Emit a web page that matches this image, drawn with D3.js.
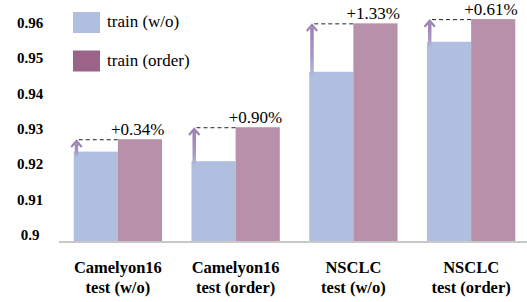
<!DOCTYPE html>
<html>
<head>
<meta charset="utf-8">
<style>
    body { margin: 0; background: #fff; }
    svg { display: block; }
    text { font-family: "Liberation Serif", "Times New Roman", Times, "DejaVu Serif", serif; fill: #000; }
    .tick-label { font-weight: bold; font-size: 15px; }
    .cat-label { font-weight: bold; font-size: 16.5px; }
    .legend-label { font-size: 17px; }
    .gain-label { font-size: 17px; }
</style>
</head>
<body>
<svg width="527" height="302"></svg>
<script src="https://d3js.org/d3.v7.min.js"></script>
<script>
    // data
    let categories = [["Camelyon16", "test (w/o)"], ["Camelyon16", "test (order)"], ["NSCLC", "test (w/o)"], ["NSCLC", "test (order)"]]
    let trainWo = [0.9253, 0.9226, 0.9479, 0.9564]
    let trainOrder = [0.9288, 0.9322, 0.9616, 0.9628]
    let gains = ["+0.34%", "+0.90%", "+1.33%", "+0.61%"]
    let tickValues = [0.9, 0.91, 0.92, 0.93, 0.94, 0.95, 0.96]
    let tickLabels = ["0.9", "0.91", "0.92", "0.93", "0.94", "0.95", "0.96"]
    let seriesNames = ["train (w/o)", "train (order)"]

    let blue = "#b0bee0"
    let pink = "#b890a9"
    let pinkLegend = "#9b6387"
    let arrowTop = "#9c82b2"

    let svg = d3.select("svg")
    let width = 527, height = 302
    let margin = { left: 59, right: -3, bottom: 61, top: 29 }

    let x = d3.scaleBand()
        .domain(d3.range(categories.length))
        .range([margin.left, width - margin.right])
        .paddingInner(0.25)
        .paddingOuter(0.125)

    let xs = d3.scaleBand()
        .domain([0, 1])
        .range([0, x.bandwidth()])

    let y = d3.scaleLinear()
        .domain([0.9, 0.96])
        .range([height - margin.bottom, margin.top])

    let defs = svg.append("defs")
    let grad = defs.append("linearGradient")
        .attr("id", "arrowGrad")
        .attr("x1", 0).attr("y1", 0).attr("x2", 0).attr("y2", 1)
    grad.append("stop").attr("offset", "0%").attr("stop-color", arrowTop)
    grad.append("stop").attr("offset", "60%").attr("stop-color", "#a898c6")
    grad.append("stop").attr("offset", "100%").attr("stop-color", blue)

    // y tick labels (no axis line)
    svg.append("g")
        .selectAll("text")
        .data(tickValues)
        .join("text")
        .attr("class", "tick-label")
        .attr("x", 30)
        .attr("y", d => y(d) - 1)
        .attr("text-anchor", "middle")
        .text((d, i) => tickLabels[i])

    // bars
    let groups = svg.append("g")
        .selectAll("g")
        .data(categories)
        .join("g")
        .attr("transform", (d, i) => `translate(${x(i)},0)`)

    groups.append("rect")
        .attr("x", xs(0))
        .attr("width", xs.bandwidth())
        .attr("y", (d, i) => y(trainWo[i]))
        .attr("height", (d, i) => y(0.9) - y(trainWo[i]))
        .attr("fill", blue)

    groups.append("rect")
        .attr("x", xs(1))
        .attr("width", xs.bandwidth())
        .attr("y", (d, i) => y(trainOrder[i]))
        .attr("height", (d, i) => y(0.9) - y(trainOrder[i]))
        .attr("fill", pink)

    // arrows and dashed lines
    groups.append("rect")
        .attr("x", xs(0) + 1)
        .attr("width", 3.5)
        .attr("y", (d, i) => y(trainOrder[i]) + 4)
        .attr("height", (d, i) => y(trainWo[i]) - y(trainOrder[i]) + 2)
        .attr("fill", "url(#arrowGrad)")

    groups.append("path")
        .attr("d", (d, i) => {
            let cx = xs(0) + 2.75, ty = y(trainOrder[i])
            return `M${cx - 6},${ty + 7} L${cx},${ty} L${cx + 6},${ty + 7} L${cx + 4.5},${ty + 8.5} L${cx},${ty + 3.5} L${cx - 4.5},${ty + 8.5} Z`
        })
        .attr("fill", arrowTop)

    groups.append("line")
        .attr("x1", xs(0) + 5)
        .attr("x2", xs(1))
        .attr("y1", (d, i) => y(trainOrder[i]) + 0.5)
        .attr("y2", (d, i) => y(trainOrder[i]) + 0.5)
        .attr("stroke", "#222")
        .attr("stroke-width", 1)
        .attr("stroke-dasharray", "4,3")

    groups.append("text")
        .attr("class", "gain-label")
        .attr("x", xs(1) - 7)
        .attr("y", (d, i) => y(trainOrder[i]) - 4)
        .text((d, i) => gains[i])

    // category labels
    let cat = groups.append("text")
        .attr("class", "cat-label")
        .attr("text-anchor", "middle")
        .attr("x", x.bandwidth() / 2)
    cat.append("tspan").attr("x", x.bandwidth() / 2).attr("y", 273).text(d => d[0])
    cat.append("tspan").attr("x", x.bandwidth() / 2).attr("y", 293).text(d => d[1])

    // baseline
    svg.append("line")
        .attr("x1", margin.left)
        .attr("x2", width)
        .attr("y1", y(0.9) + 1)
        .attr("y2", y(0.9) + 1)
        .attr("stroke", "#c8c8c8")
        .attr("stroke-width", 2)

    // legend
    let legend = svg.append("g")
        .selectAll("g")
        .data(seriesNames)
        .join("g")
        .attr("transform", (d, i) => `translate(73,${12 + i * 38.5})`)

    legend.append("rect")
        .attr("width", 27)
        .attr("height", 21)
        .attr("fill", (d, i) => i == 0 ? blue : pinkLegend)

    legend.append("text")
        .attr("class", "legend-label")
        .attr("x", 34)
        .attr("y", 15)
        .text(d => d)
</script>
</body>
</html>
